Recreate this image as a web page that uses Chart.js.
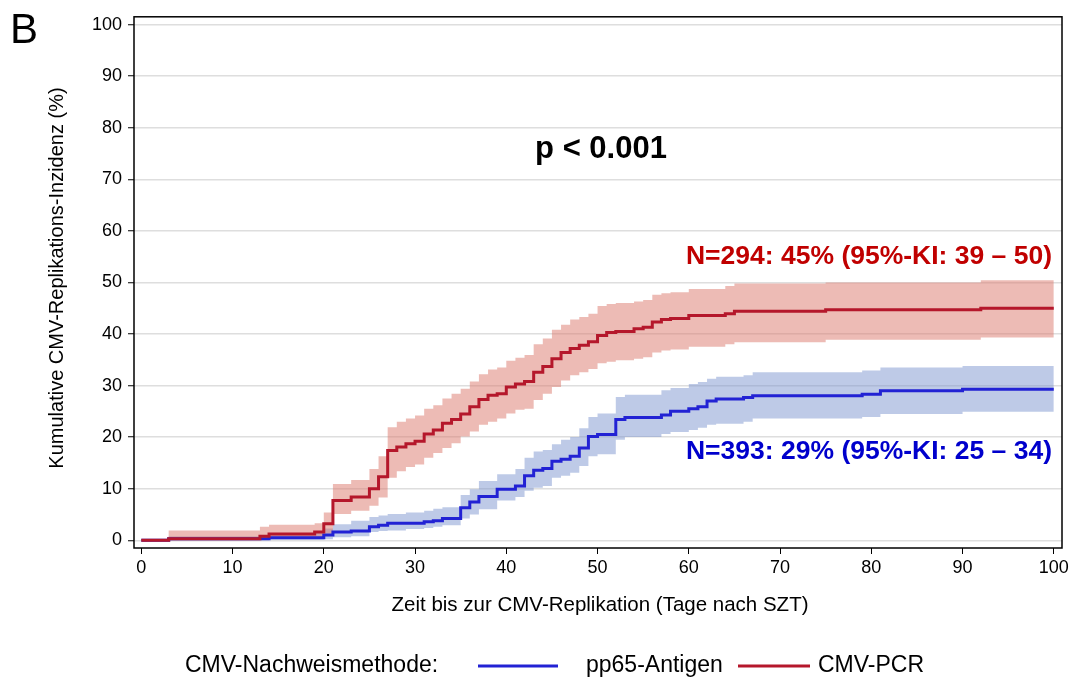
<!DOCTYPE html>
<html>
<head>
<meta charset="utf-8">
<script src="https://cdn.jsdelivr.net/npm/chart.js@4.4.0/dist/chart.umd.min.js"></script>
<style>
body { margin: 0; background: #fff; }
</style>
</head>
<body>
<canvas id="grafico" width="1075" height="680"></canvas>
<script>
// Achsen
const xTicks = [0, 10, 20, 30, 40, 50, 60, 70, 80, 90, 100];
const yTicks = [0, 10, 20, 30, 40, 50, 60, 70, 80, 90, 100];

// CMV-PCR (rot): Tage, Schaetzer, untere / obere KI-Grenze
const pcrDays = [0, 3, 13, 14, 19, 20, 21, 23, 25, 26, 27, 28, 29, 30, 31, 32, 33, 34, 35, 36, 37, 38, 39, 40, 41, 42, 43, 44, 45, 46, 47, 48, 49, 50, 51, 52, 54, 55, 56, 57, 58, 60, 64, 65, 75, 92, 100];
const pcrEst  = [0, 0.3, 0.8, 1.2, 1.6, 3.2, 7.7, 8.4, 10.0, 12.3, 17.4, 18.1, 18.7, 19.2, 20.6, 21.4, 22.7, 23.4, 24.5, 25.9, 27.3, 28.1, 28.4, 29.7, 30.3, 30.8, 32.6, 33.7, 35.2, 36.4, 37.2, 37.8, 38.5, 39.7, 40.3, 40.5, 41.0, 41.3, 42.3, 42.8, 43.0, 43.6, 43.9, 44.4, 44.7, 45.0, 45.0];
const pcrLow  = [0, 0, 0.1, 0.3, 0.5, 1.3, 5.1, 5.7, 6.7, 8.3, 12.1, 13.4, 14.2, 14.7, 16.0, 16.9, 17.9, 18.8, 20.1, 21.1, 22.4, 23.0, 23.6, 24.6, 25.3, 25.5, 27.2, 28.4, 29.7, 31.0, 32.0, 32.6, 33.2, 34.3, 34.6, 34.9, 35.2, 35.5, 36.4, 36.8, 37.0, 37.5, 38.0, 38.4, 38.9, 39.3, 39.3];
const pcrHigh = [0, 1.9, 2.6, 3.0, 3.3, 5.4, 10.9, 11.7, 13.8, 16.3, 21.9, 23.0, 23.6, 24.2, 25.5, 26.2, 27.5, 28.4, 29.4, 30.8, 32.2, 33.1, 33.5, 34.8, 35.4, 35.9, 38.0, 39.1, 40.8, 41.8, 42.8, 43.3, 43.9, 45.4, 45.8, 46.0, 46.3, 46.6, 47.6, 47.9, 48.1, 48.7, 49.3, 49.8, 50.0, 50.4, 50.4];

// pp65-Antigen (blau)
const ppDays = [0, 3, 14, 20, 21, 23, 25, 26, 27, 29, 31, 32, 33, 35, 36, 37, 39, 41, 42, 43, 44, 45, 46, 47, 48, 49, 50, 52, 53, 57, 58, 60, 61, 62, 63, 66, 67, 79, 81, 90, 100];
const ppEst  = [0, 0.3, 0.5, 1.0, 1.6, 1.8, 2.6, 2.9, 3.3, 3.3, 3.6, 3.8, 4.2, 6.3, 7.4, 8.5, 9.9, 10.5, 12.5, 13.6, 13.9, 15.3, 15.7, 16.3, 17.9, 20.1, 20.5, 23.4, 23.8, 24.3, 25.0, 25.5, 25.9, 27.0, 27.4, 27.7, 28.0, 28.3, 29.0, 29.3, 29.3];
const ppLow  = [0, 0, 0.1, 0.2, 0.6, 0.8, 1.6, 1.8, 1.9, 2.2, 2.4, 2.6, 2.9, 4.2, 5.0, 6.0, 7.7, 8.4, 9.6, 10.2, 10.5, 12.1, 12.5, 13.1, 14.4, 16.3, 16.7, 19.5, 20.0, 20.6, 21.0, 21.4, 21.8, 22.4, 22.6, 23.0, 23.6, 23.9, 24.5, 24.9, 24.9];
const ppHigh = [0, 0.8, 1.4, 2.3, 3.1, 3.8, 4.5, 4.8, 5.1, 5.4, 5.7, 6.1, 6.4, 8.8, 9.9, 11.5, 12.8, 13.8, 16.0, 17.2, 17.5, 18.6, 19.5, 20.0, 21.7, 23.9, 24.6, 27.8, 28.2, 29.1, 29.5, 30.3, 30.7, 31.3, 31.7, 32.0, 32.6, 32.9, 33.5, 33.8, 33.8];

const pts = (days, vals) => days.map((d, i) => ({ x: d, y: vals[i] }));

const fontFam = '"Liberation Sans", Arial, sans-serif';
Chart.defaults.font.family = fontFam;
Chart.defaults.color = '#000';

const rot = '#b5172b';
const blau = '#2222d4';

const extras = {
    id: 'extras',
    afterDraw(chart) {
        const c = chart.ctx;
        const a = chart.chartArea;
        c.save();
        // Rahmen
        c.strokeStyle = '#000';
        c.lineWidth = 1.5;
        c.strokeRect(a.left, a.top, a.right - a.left, a.bottom - a.top);

        // Texte im Plot
        c.textBaseline = 'middle';
        c.fillStyle = '#000';
        c.font = 'bold 31px ' + fontFam;
        c.textAlign = 'center';
        c.fillText('p < 0.001', 601, 149);

        c.font = 'bold 26.5px ' + fontFam;
        c.textAlign = 'right';
        c.fillStyle = '#c00000';
        c.fillText('N=294: 45% (95%-KI: 39 \u2013 50)', 1052, 257);
        c.fillStyle = '#0000cc';
        c.fillText('N=393: 29% (95%-KI: 25 \u2013 34)', 1052, 452);

        // Panel-Buchstabe
        c.fillStyle = '#000';
        c.textAlign = 'left';
        c.font = '42px ' + fontFam;
        c.fillText('B', 10, 31);

        // Achsentitel
        c.font = '20.5px ' + fontFam;
        c.textAlign = 'center';
        c.fillText('Zeit bis zur CMV-Replikation (Tage nach SZT)', 600, 605);
        c.font = '20px ' + fontFam;
        c.save();
        c.translate(57, 278);
        c.rotate(-Math.PI / 2);
        c.fillText('Kumulative CMV-Replikations-Inzidenz (%)', 0, 0);
        c.restore();

        // Legende
        const ly = 666;
        c.font = '23px ' + fontFam;
        c.textAlign = 'left';
        c.fillText('CMV-Nachweismethode:', 185, ly);
        c.lineWidth = 3;
        c.strokeStyle = blau;
        c.beginPath(); c.moveTo(478, ly); c.lineTo(558, ly); c.stroke();
        c.fillText('pp65-Antigen', 586, ly);
        c.strokeStyle = rot;
        c.beginPath(); c.moveTo(738, ly); c.lineTo(810, ly); c.stroke();
        c.fillText('CMV-PCR', 818, ly);
        c.restore();
    }
};

const ctx = document.getElementById('grafico').getContext('2d');
const grafico = new Chart(ctx, {
    type: 'line',
    data: {
        datasets: [
            { label: 'CMV-PCR', data: pts(pcrDays, pcrEst), stepped: true, borderColor: rot, borderWidth: 3, pointRadius: 0, fill: false },
            { label: 'pp65-Antigen', data: pts(ppDays, ppEst), stepped: true, borderColor: blau, borderWidth: 3, pointRadius: 0, fill: false },
            { label: 'PCR oben', data: pts(pcrDays, pcrHigh), stepped: true, borderWidth: 0, pointRadius: 0, fill: false },
            { label: 'PCR unten', data: pts(pcrDays, pcrLow), stepped: true, borderWidth: 0, pointRadius: 0, fill: '-1', backgroundColor: 'rgba(220,120,108,0.5)' },
            { label: 'pp65 oben', data: pts(ppDays, ppHigh), stepped: true, borderWidth: 0, pointRadius: 0, fill: false },
            { label: 'pp65 unten', data: pts(ppDays, ppLow), stepped: true, borderWidth: 0, pointRadius: 0, fill: '-1', backgroundColor: 'rgba(120,145,205,0.48)' }
        ]
    },
    options: {
        responsive: false,
        animation: false,
        layout: { padding: { left: 0, top: 10, right: 13, bottom: 0 } },
        plugins: { legend: { display: false }, tooltip: { enabled: false } },
        scales: {
            x: {
                type: 'linear', min: -0.8, max: 100.9,
                afterBuildTicks: s => { s.ticks = xTicks.map(v => ({ value: v })); },
                afterFit: s => { s.height = 132; },
                grid: { drawOnChartArea: false, tickLength: 6, tickColor: '#000' },
                border: { display: false },
                ticks: { font: { size: 18 }, padding: 3, maxRotation: 0 }
            },
            y: {
                type: 'linear', min: -1.5, max: 101.5,
                afterBuildTicks: s => { s.ticks = yTicks.map(v => ({ value: v })); },
                afterFit: s => { s.width = 134; },
                grid: { color: '#dedede', lineWidth: 1.5, tickLength: 6, tickColor: '#000', tickWidth: 1 },
                border: { display: false },
                ticks: { font: { size: 18 }, padding: 6 }
            }
        }
    },
    plugins: [extras]
});
</script>
</body>
</html>
